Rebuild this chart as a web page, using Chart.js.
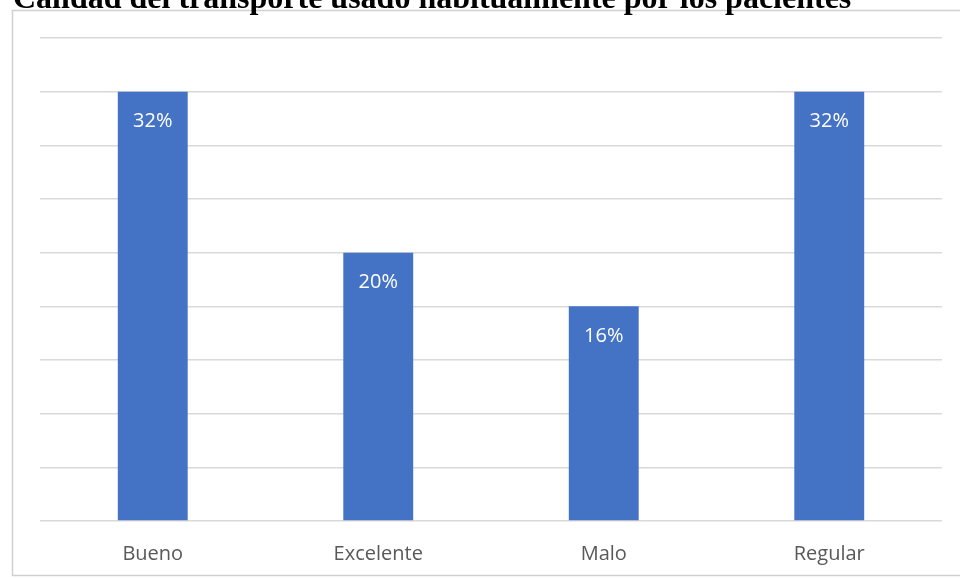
<!DOCTYPE html>
<html>
<head>
<meta charset="utf-8">
<script src="https://cdn.jsdelivr.net/npm/chart.js@4.4.1/dist/chart.umd.min.js"></script>
<style>
  html, body { margin: 0; padding: 0; background: #ffffff; }
  #wrap { width: 960px; height: 578px; position: relative; }
</style>
</head>
<body>
<div id="wrap"><canvas id="bar-chart"></canvas></div>
<script>
const categories = ["Bueno", "Excelente", "Malo", "Regular"];
const percentages = [32, 20, 16, 32];
const titleText = "Calidad del transporte usado habitualmente por los pacientes";

const barColor = "#4472c4";
const textColor = "#595959";
const gridColor = "#d9d9d9";
const labelFont = "'Open Sans', 'Noto Sans', sans-serif";

// frame around the chart plus the heading sitting above it
const framePlugin = {
    id: "frame",
    beforeDraw(chart) {
        const ctx = chart.ctx;
        ctx.save();
        ctx.fillStyle = "#ffffff";
        ctx.fillRect(0, 0, chart.width, chart.height);
        ctx.strokeStyle = "#d0d0d0";
        ctx.lineWidth = 1.5;
        ctx.strokeRect(12.5, 10.5, chart.width, chart.height - 13);
        ctx.fillStyle = "#000000";
        ctx.font = "bold 32px 'Liberation Serif', 'Times New Roman', serif";
        ctx.textAlign = "left";
        ctx.textBaseline = "alphabetic";
        ctx.fillText(titleText, 13, 8);
        ctx.restore();
    },
};

// percentage written inside the top of each bar
const valueLabels = {
    id: "valueLabels",
    afterDatasetsDraw(chart) {
        const ctx = chart.ctx;
        const meta = chart.getDatasetMeta(0);
        ctx.save();
        ctx.fillStyle = "#ffffff";
        ctx.font = "20px " + labelFont;
        ctx.textAlign = "center";
        ctx.textBaseline = "middle";
        meta.data.forEach((bar, i) => {
            ctx.fillText(percentages[i] + "%", bar.x, bar.y + 30);
        });
        ctx.restore();
    },
};

const barCtx = document.getElementById("bar-chart");
new Chart(barCtx, {
    type: "bar",
    data: {
        labels: categories,
        datasets: [
            {
                data: percentages,
                backgroundColor: barColor,
                borderWidth: 0,
                categoryPercentage: 1,
                barPercentage: 0.31,
            },
        ],
    },
    options: {
        responsive: true,
        maintainAspectRatio: false,
        animation: false,
        layout: { padding: { top: 38, left: 40, right: 18, bottom: 0 } },
        plugins: {
            legend: { display: false },
            tooltip: { enabled: false },
        },
        scales: {
            x: {
                grid: { display: false },
                border: { display: false },
                ticks: {
                    color: textColor,
                    font: { family: labelFont, size: 20 },
                    padding: 13,
                },
                afterFit(scale) {
                    scale.height = 57;
                },
            },
            y: {
                min: 0,
                max: 36,
                ticks: { stepSize: 4, display: false },
                grid: { color: gridColor, lineWidth: 1.5, drawTicks: false },
                border: { display: false },
            },
        },
    },
    plugins: [framePlugin, valueLabels],
});
</script>
</body>
</html>
